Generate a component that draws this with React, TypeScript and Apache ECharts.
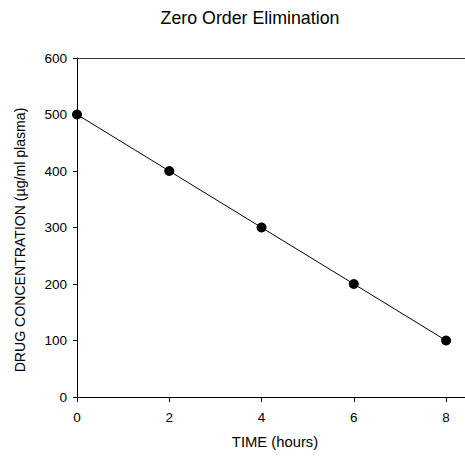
import React, { useEffect, useRef } from "react";
import * as echarts from "echarts";

const timeHours = [0, 2, 4, 6, 8];
const concentration = [500, 400, 300, 200, 100];
const xTickValues = [0, 2, 4, 6, 8];
const titleText = "Zero Order Elimination";
const xName = "TIME (hours)";
const yName = "DRUG CONCENTRATION (\u00b5g/ml plasma)";

const FONT = "Liberation Sans, Arial, sans-serif";

export default function App() {
  const ref = useRef<HTMLDivElement>(null);
  useEffect(() => {
    if (!ref.current) return;
    const chart = echarts.init(ref.current, null, { renderer: "svg" });
    const xMax = 8.41;
    chart.setOption({
      animation: false,
      backgroundColor: "#fff",
      textStyle: { fontFamily: FONT },
      graphic: [
        {
          type: "text",
          x: 250,
          y: 18,
          style: {
            text: titleText,
            fontFamily: FONT,
            fontSize: 17.8,
            fill: "#000",
            align: "center",
            verticalAlign: "middle",
          },
        },
        {
          type: "text",
          x: 275,
          y: 442,
          style: {
            text: xName,
            fontFamily: FONT,
            fontSize: 14.8,
            fill: "#000",
            align: "center",
            verticalAlign: "middle",
          },
        },
        {
          type: "text",
          x: 20,
          y: 240,
          rotation: Math.PI / 2,
          style: {
            text: yName,
            fontFamily: FONT,
            fontSize: 14.1,
            fill: "#000",
            align: "center",
            verticalAlign: "middle",
          },
        },
      ],
      grid: { left: 77, top: 58, right: 0, bottom: 59 },
      xAxis: [
        {
          type: "value",
          min: 0,
          max: xMax,
          splitLine: { show: false },
          axisLine: { show: true, onZero: false, lineStyle: { color: "#000", width: 1 } },
          axisTick: {
            show: true,
            length: 5,
            customValues: xTickValues,
            lineStyle: { color: "#000" },
          },
          axisLabel: {
            customValues: xTickValues,
            margin: 13,
            fontSize: 13.5,
            color: "#000",
            fontFamily: FONT,
          },
        },
        {
          type: "value",
          position: "top",
          min: 0,
          max: xMax,
          splitLine: { show: false },
          axisLine: { show: true, onZero: false, lineStyle: { color: "#333", width: 1 } },
          axisTick: { show: false },
          axisLabel: { show: false },
        },
      ],
      yAxis: {
        type: "value",
        min: 0,
        max: 600,
        interval: 100,
        splitLine: { show: false },
        axisLine: { show: true, onZero: false, lineStyle: { color: "#000", width: 1 } },
        axisTick: { show: true, length: 4, lineStyle: { color: "#000" } },
        axisLabel: {
          margin: 10,
          fontSize: 13.5,
          color: "#000",
          fontFamily: FONT,
        },
      },
      series: [
        {
          type: "line",
          data: timeHours.map((t, i) => [t, concentration[i]]),
          symbol: "circle",
          symbolSize: 10,
          lineStyle: { color: "#000", width: 1 },
          itemStyle: { color: "#000" },
        },
      ],
    });
    return () => chart.dispose();
  }, []);
  return (
    <div
      ref={ref}
      style={{ position: "fixed", left: 0, top: 0, width: 465, height: 456 }}
    />
  );
}
